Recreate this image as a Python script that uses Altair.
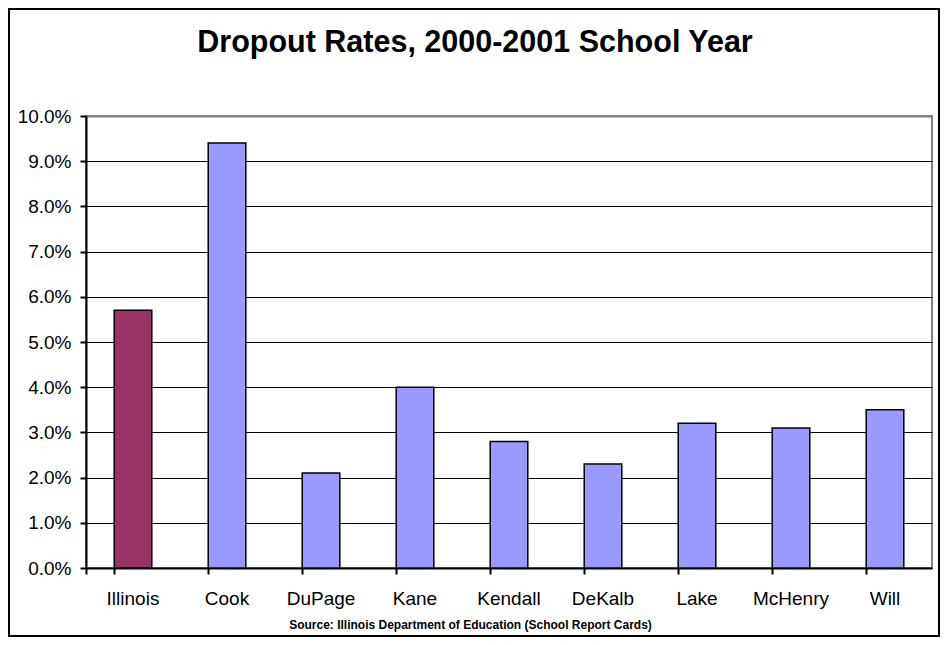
import altair as alt
import pandas as pd

categories = ["Illinois", "Cook", "DuPage", "Kane", "Kendall", "DeKalb", "Lake", "McHenry", "Will"]
rates = [5.7, 9.4, 2.1, 4.0, 2.8, 2.3, 3.2, 3.1, 3.5]
groups = ["state", "county", "county", "county", "county", "county", "county", "county", "county"]
y_ticks = [0, 1, 2, 3, 4, 5, 6, 7, 8, 9, 10]

title_text = "Dropout Rates, 2000-2001 School Year"
source_text = "Source: Illinois Department of Education (School Report Cards)"

df = pd.DataFrame({"area": categories, "rate": rates, "group": groups})

FONT = "Liberation Sans"
W, H = 846, 452

bars = alt.Chart(df).mark_bar(stroke="black", strokeWidth=1.5).encode(
    x=alt.X(
        "area:N",
        sort=categories,
        scale=alt.Scale(paddingInner=0.6, paddingOuter=0.3),
        axis=alt.Axis(
            title=source_text,
            titleFont=FONT,
            titleFontSize=12,
            titleFontWeight="bold",
            titleColor="black",
            titleX=384,
            titleY=60,
            titleBaseline="alphabetic",
            titleAlign="center",
            labelFont=FONT,
            labelFontSize=19,
            labelColor="black",
            labelAngle=0,
            labelPadding=15,
            bandPosition=0,
            tickExtra=True,
            tickSize=6,
            tickWidth=2,
            tickColor="black",
            domainColor="black",
            domainWidth=2,
            grid=False,
        ),
    ),
    y=alt.Y(
        "rate:Q",
        scale=alt.Scale(domain=[0, 10], nice=False),
        axis=alt.Axis(
            title=None,
            values=y_ticks,
            labelExpr="format(datum.value, '.1f') + '%'",
            labelFont=FONT,
            labelFontSize=19,
            labelColor="black",
            labelPadding=9,
            tickSize=6,
            tickWidth=2,
            tickColor="black",
            domainColor="black",
            domainWidth=2,
            grid=True,
            gridColor=alt.condition("datum.value == 10", alt.value("#808080"), alt.value("black")),
            gridWidth=alt.condition("datum.value == 10", alt.value(2), alt.value(1)),
            gridOpacity=1,
        ),
    ),
    color=alt.Color(
        "group:N",
        scale=alt.Scale(domain=["state", "county"], range=["#993366", "#9999FF"]),
        legend=None,
    ),
)

frame = alt.Chart(pd.DataFrame({"k": [0]})).mark_rect(
    fill=None, stroke="black", strokeWidth=2
).encode(
    x=alt.value(-77),
    x2=alt.value(W + 7),
    y=alt.value(-107),
    y2=alt.value(H + 68),
)

chart = alt.layer(bars, frame).properties(
    width=W,
    height=H,
    title=alt.TitleParams(
        text=title_text,
        font=FONT,
        fontSize=30.5,
        fontWeight="bold",
        color="black",
        anchor="middle",
        dx=-34,
        offset=-74,
        baseline="alphabetic",
    ),
    autosize=alt.AutoSizeParams(type="none"),
    padding={"left": 78, "top": 108, "right": 8, "bottom": 69},
    background="white",
).configure_view(stroke="#808080", strokeWidth=2)

chart.save("out.html", embed_options={"renderer": "svg", "actions": False})
